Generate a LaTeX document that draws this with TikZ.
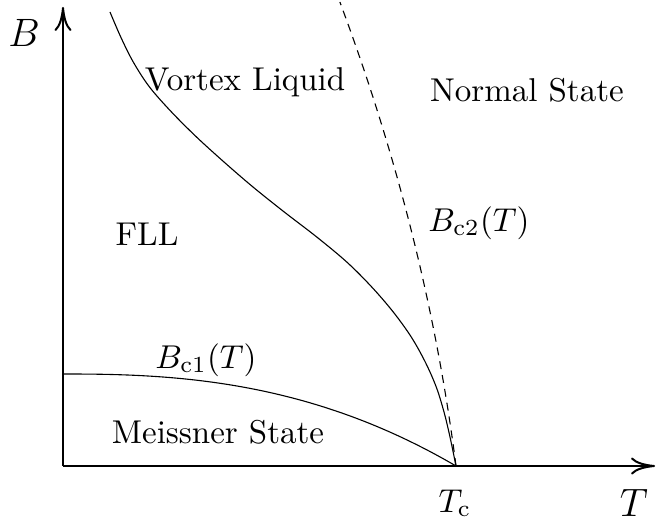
\documentclass[tikz,border=0pt]{standalone}
\usetikzlibrary{arrows.meta}
\begin{document}
\begin{tikzpicture}[x=1pt,y=-1pt,
  lbl/.style={inner sep=0pt,anchor=base,font=\normalsize,scale=3.3,transform shape},
  axlbl/.style={inner sep=0pt,anchor=base,font=\large,scale=3.3,transform shape},
  axis/.style={line width=2.2pt,-{To[length=24pt,width=17pt,line width=2pt]}},
  curve/.style={line width=1.1pt},
  bctwo/.style={line width=1.1pt,dash pattern=on 8pt off 6pt}]
\useasboundingbox (0,0) rectangle (656,527);
\coordinate (O) at (63,466);
\coordinate (Ytip) at (63,7);
\coordinate (Xtip) at (655,466);
\coordinate (Tc) at (456,466);
\draw[axis] (O) -- (Ytip);
\draw[axis] (O) -- (Xtip);
% B_c2 (dashed)
\draw[bctwo] plot[domain=0:464,samples=80,variable=\t]
  ({456-0.1277*\t-(0.01625*\t)^2},{466-\t});
% melting line
\draw[curve] plot[smooth,tension=0.55] coordinates {(110,12) (120.75,37) (133.25,62) (149.5,87) (171.5,112) (196.5,137) (224,162) (253,187) (284.25,212) (316.75,237) (346.75,262) (371.75,287) (393.25,312) (411.25,337) (425.25,362) (436.25,387) (444,412) (450,437) (Tc)};
% B_c1
\draw[curve] plot[domain=0:1,samples=60,variable=\t]
  ({63+393*\t},{374+92*\t*\t*sqrt(\t)});
\node[axlbl] (Blbl) at (24,47) {$B$};
\node[axlbl] (Tlbl) at (634,516) {$T$};
\node[lbl] (Tclbl) at (455,512) {$T_{\mathrm{c}}$};
\node[lbl] (vl) at (245,91) {Vortex Liquid};
\node[lbl] (ns) at (527,102) {Normal State};
\node[lbl] (fll) at (147,245) {FLL};
\node[lbl] (bc2) at (479,231) {$B_{\mathrm{c2}}(T)$};
\node[lbl] (bc1) at (206,368) {$B_{\mathrm{c1}}(T)$};
\node[lbl] (ms) at (218,443) {Meissner State};
\end{tikzpicture}
\end{document}
